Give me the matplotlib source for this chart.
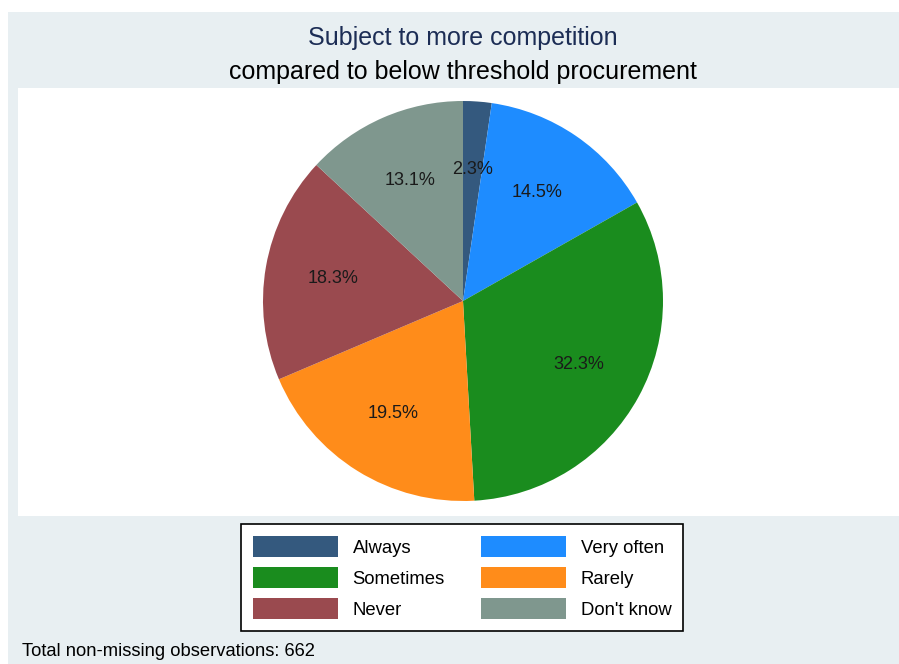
import matplotlib
matplotlib.use('Agg')
import matplotlib.pyplot as plt
from matplotlib.patches import Patch, Rectangle

categories = ['Always', 'Very often', 'Sometimes', 'Rarely', 'Never', "Don't know"]
shares = [2.3, 14.5, 32.3, 19.5, 18.3, 13.1]
colors = ['#34597e', '#1e8cff', '#1a8c1e', '#ff8c1a', '#9a4a4f', '#7f978e']
n_obs = 662

plt.rcParams['font.family'] = ['Liberation Sans', 'DejaVu Sans']

W, H = 899, 664
fig = plt.figure(figsize=(W / 100, H / 100), dpi=100)
fig.patch.set_facecolor('white')

# grey graph region, then white plot region (behind the axes)
fig.add_artist(Rectangle((8 / W, 0), 1 - 8 / W, 1 - 12 / H, transform=fig.transFigure,
                         facecolor='#e8eff2', edgecolor='none', zorder=-2))
fig.add_artist(Rectangle((18 / W, 1 - 516 / H), 1 - 18 / W, (516 - 88) / H,
                         transform=fig.transFigure, facecolor='white', edgecolor='none',
                         zorder=-1))

ax = fig.add_axes([18 / W, 1 - 516 / H, (W - 18) / W, (516 - 88) / H])
ax.patch.set_visible(False)
for s in ax.spines.values():
    s.set_visible(False)
ax.set_xticks([]); ax.set_yticks([])

wedges, _, autotexts = ax.pie(shares, colors=colors, startangle=90, counterclock=False,
                              radius=1.0, autopct='%1.1f%%', pctdistance=0.66,
                              wedgeprops=dict(linewidth=0),
                              textprops=dict(fontsize=13, color='#1a1a1a'))
ax.set_xlim(-2.225, 2.18)
ax.set_ylim(-1.075, 1.065)
ax.set_aspect('equal')

fig.text(463 / W, 1 - 38.5 / H, 'Subject to more competition', ha='center', va='center',
         fontsize=18, color='#1c2d55')
fig.text(463 / W, 1 - 72.5 / H, 'compared to below threshold procurement', ha='center',
         va='center', fontsize=18, color='black')

order = [0, 2, 4, 1, 3, 5]
handles = [Patch(facecolor=colors[i], edgecolor='none') for i in order]
labels = [categories[i] for i in order]
leg = fig.legend(handles, labels, ncol=2, loc='center', bbox_to_anchor=(462 / W, 1 - 577.5 / H),
                 fontsize=13.3, frameon=True, fancybox=False, edgecolor='black', framealpha=1,
                 handlelength=4.6, handleheight=1.38, handletextpad=0.81, columnspacing=1.95,
                 labelspacing=0.54, borderpad=0.62)
leg.get_frame().set_linewidth(1.2)
leg.get_frame().set_facecolor('white')

fig.text(22 / W, 1 - 652 / H, 'Total non-missing observations: %d' % n_obs, ha='left',
         va='center', fontsize=13.2, color='black')

fig.savefig('out.png', dpi=100)
